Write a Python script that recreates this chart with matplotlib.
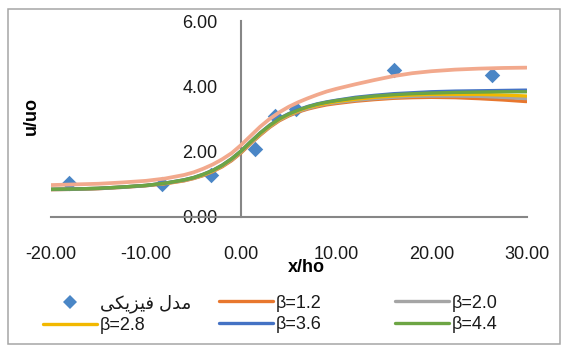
import matplotlib
matplotlib.use("Agg")
import matplotlib.pyplot as plt
from matplotlib.lines import Line2D
from matplotlib.patches import Rectangle
from matplotlib.ticker import FormatStrFormatter

plt.rcParams['font.family'] = ['Liberation Sans', 'DejaVu Sans']
plt.rcParams['axes.unicode_minus'] = False

# ---------------- data ----------------
obs_x = [-18.1, -8.3, -3.2, 1.4, 3.6, 5.8, 16.1, 26.4]
obs_y = [1.03, 1.01, 1.27, 2.07, 3.10, 3.30, 4.50, 4.35]

curve_x = [-20, -17.5, -15, -12.5, -10, -8, -6, -5, -4, -3, -2, -1, 0, 1, 2, 3, 4, 5, 6, 7, 8, 9, 10,
           12, 14, 16, 18, 20, 22.5, 25, 27.5, 30]
beta_12 = [0.83, 0.84, 0.86, 0.90, 0.95, 1.01, 1.10, 1.17, 1.26, 1.38, 1.53, 1.72, 1.96, 2.24, 2.50, 2.74,
           2.94, 3.09, 3.21, 3.30, 3.37, 3.43, 3.47, 3.54, 3.59, 3.63, 3.65, 3.66, 3.65, 3.62, 3.58, 3.53]
beta_20 = [0.83, 0.84, 0.86, 0.90, 0.95, 1.02, 1.11, 1.18, 1.27, 1.39, 1.55, 1.74, 1.98, 2.26, 2.52, 2.76,
           2.96, 3.11, 3.23, 3.32, 3.40, 3.46, 3.50, 3.57, 3.62, 3.66, 3.69, 3.70, 3.70, 3.69, 3.66, 3.62]
beta_28 = [0.84, 0.85, 0.87, 0.91, 0.96, 1.02, 1.12, 1.19, 1.28, 1.40, 1.56, 1.76, 2.00, 2.28, 2.54, 2.78,
           2.98, 3.13, 3.25, 3.35, 3.42, 3.48, 3.53, 3.60, 3.66, 3.70, 3.73, 3.75, 3.75, 3.75, 3.73, 3.70]
beta_36 = [0.84, 0.85, 0.87, 0.91, 0.96, 1.03, 1.13, 1.20, 1.30, 1.42, 1.58, 1.78, 2.02, 2.30, 2.57, 2.81,
           3.01, 3.16, 3.28, 3.38, 3.46, 3.52, 3.57, 3.66, 3.72, 3.77, 3.80, 3.83, 3.85, 3.86, 3.87, 3.88]
beta_44 = [0.84, 0.85, 0.87, 0.91, 0.96, 1.03, 1.13, 1.20, 1.30, 1.42, 1.58, 1.78, 2.02, 2.30, 2.57, 2.80,
           3.00, 3.15, 3.27, 3.37, 3.45, 3.51, 3.56, 3.64, 3.70, 3.74, 3.77, 3.79, 3.81, 3.82, 3.83, 3.83]
upper = [0.97, 0.99, 1.01, 1.05, 1.10, 1.17, 1.28, 1.36, 1.47, 1.60, 1.76, 1.95, 2.20, 2.48, 2.76, 3.00,
         3.20, 3.37, 3.51, 3.63, 3.74, 3.84, 3.92, 4.06, 4.19, 4.31, 4.40, 4.46, 4.51, 4.54, 4.56, 4.57]

series_labels = ["β=1.2", "β=2.0", "β=2.8", "β=3.6", "β=4.4"]
series_colors = ["#E8772E", "#A5A5A5", "#F2B800", "#4472C4", "#6DA544"]
obs_label = "مدل فیزیکی"

x_ticks = [-20, -10, 0, 10, 20, 30]
y_ticks = [0, 2, 4, 6]


def shape_arabic(text):
    forms = {
        'م': ('\uFEE1', '\uFEE2', '\uFEE3', '\uFEE4'),
        'د': ('\uFEA9', '\uFEAA', None, None),
        'ل': ('\uFEDD', '\uFEDE', '\uFEDF', '\uFEE0'),
        'ف': ('\uFED1', '\uFED2', '\uFED3', '\uFED4'),
        'ی': ('\uFBFC', '\uFBFD', '\uFBFE', '\uFBFF'),
        'ز': ('\uFEAF', '\uFEB0', None, None),
        'ک': ('\uFB8E', '\uFB8F', '\uFB90', '\uFB91'),
    }
    out = []
    for i, ch in enumerate(text):
        if ch not in forms:
            out.append(ch)
            continue
        prev = text[i - 1] if i > 0 else ''
        nxt = text[i + 1] if i + 1 < len(text) else ''
        jp = prev in forms and forms[prev][2] is not None
        jn = forms[ch][2] is not None and nxt in forms
        iso, fin, ini, med = forms[ch]
        if jp and jn:
            out.append(med)
        elif jp:
            out.append(fin)
        elif jn:
            out.append(ini)
        else:
            out.append(iso)
    return ''.join(out)[::-1]


W, H = 563, 347
fig = plt.figure(figsize=(W / 100, H / 100), dpi=100)
fig.patch.set_facecolor('white')
fig.add_artist(Rectangle((8 / W, 1 - 344 / H), 552 / W, 335 / H, transform=fig.transFigure,
                         fill=False, edgecolor='#A6A6A6', linewidth=1.1))

ax = fig.add_axes([51 / W, 1 - 216.7 / H, 475.5 / W, 195.7 / H])
ax.set_facecolor('none')

ax.scatter(obs_x, obs_y, marker='D', s=62, color='#4A86C6', zorder=2, linewidths=0)
handles = []
for vals, lab, col in zip([beta_12, beta_20, beta_28, beta_36, beta_44], series_labels, series_colors):
    ln, = ax.plot(curve_x, vals, color=col, lw=2.4, zorder=3,
                  solid_capstyle='round', solid_joinstyle='round')
    handles.append(ln)
ax.plot(curve_x, upper, color='#F2A98D', lw=2.7, zorder=4,
        solid_capstyle='round', solid_joinstyle='round')

ax.set_xlim(-20, 30)
ax.set_ylim(0, 6)
ax.set_xticks(x_ticks)
ax.set_yticks(y_ticks)
ax.xaxis.set_major_formatter(FormatStrFormatter('%.2f'))
ax.yaxis.set_major_formatter(FormatStrFormatter('%.2f'))
for s in ['top', 'right']:
    ax.spines[s].set_visible(False)
ax.spines['left'].set_position(('data', 0))
ax.spines['left'].set_color('#868686')
ax.spines['left'].set_linewidth(1.5)
ax.spines['bottom'].set_color('#868686')
ax.spines['bottom'].set_linewidth(1.5)
ax.tick_params(axis='x', length=0, pad=21, labelsize=13, labelcolor='#1a1a1a')
ax.tick_params(axis='y', length=0, pad=17, labelsize=13, labelcolor='#1a1a1a')

ax.set_xlabel('x/ho', fontsize=13, fontweight='bold', va='center', ha='center')
ax.xaxis.set_label_coords((306 - 51) / 475.5, (216.7 - 267) / 195.7)
ax.set_ylabel('u/uo', fontsize=13, fontweight='bold', va='center', ha='center')
ax.yaxis.set_label_coords((31.7 - 51) / 475.5, (216.7 - 116) / 195.7)

obs_handle = Line2D([], [], linestyle='none', marker='D', markersize=7, color='#4A86C6', markeredgewidth=0)
cols = [
    ([obs_handle, handles[2]], [shape_arabic(obs_label), series_labels[2]], 43),
    ([handles[0], handles[3]], [series_labels[0], series_labels[3]], 219),
    ([handles[1], handles[4]], [series_labels[1], series_labels[4]], 395),
]
for hs, ls, xpix in cols:
    leg = fig.legend(hs, ls, loc='center left', bbox_to_anchor=(xpix / W, 1 - 314 / H),
                     frameon=False, fontsize=13, borderpad=0, borderaxespad=0,
                     handlelength=3.0, handletextpad=0.15, labelspacing=0.25, numpoints=1)
    for t in leg.get_texts():
        t.set_color('#1a1a1a')

fig.savefig('out.png', dpi=100)
